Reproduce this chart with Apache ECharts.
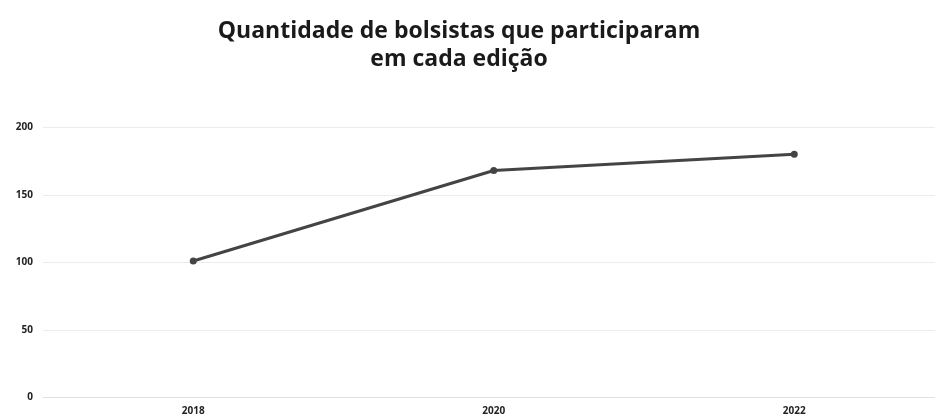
<!DOCTYPE html>
<html><head><meta charset="utf-8">
<script src="https://cdn.jsdelivr.net/npm/echarts@6/dist/echarts.min.js"></script>
<style>html,body{margin:0;padding:0;background:#fff;overflow:hidden;width:935px;height:417px}#c{width:945px;height:417px}</style>
</head><body><div id="c"></div>
<script>
const categories = ['2018', '2020', '2022'];
const bolsistas = [101, 168, 180];
const yTicks = [0, 50, 100, 150, 200];

const chart = echarts.init(document.getElementById('c'));
chart.setOption({
  backgroundColor: '#fff',
  animation: false,
  title: {
    text: 'Quantidade de bolsistas que participaram\nem cada edição',
    left: 454, top: 12,
    textAlign: 'center',
    textStyle: {fontFamily: 'Open Sans', fontWeight: 'bold', fontSize: 23, lineHeight: 28, color: '#1a1a1a'}
  },
  grid: {left: 43, right: 0.5, top: 127.3, height: 270, containLabel: false},
  xAxis: {
    type: 'category', data: categories, boundaryGap: true,
    axisLine: {show: true, lineStyle: {color: '#e2e2e2', width: 1}},
    axisTick: {show: false},
    axisLabel: {fontFamily: 'Open Sans', fontWeight: 'bold', fontSize: 10, color: '#222', margin: 9}
  },
  yAxis: {
    type: 'value', min: yTicks[0], max: yTicks[yTicks.length - 1], interval: 50,
    axisLine: {show: false}, axisTick: {show: false},
    splitLine: {lineStyle: {color: '#ececec', width: 1}},
    axisLabel: {fontFamily: 'Open Sans', fontWeight: 'bold', fontSize: 10, color: '#222', margin: 10}
  },
  series: [{
    type: 'line', data: bolsistas,
    symbol: 'circle', symbolSize: 7,
    lineStyle: {color: '#444', width: 3},
    itemStyle: {color: '#444'}
  }]
});
</script></body></html>
